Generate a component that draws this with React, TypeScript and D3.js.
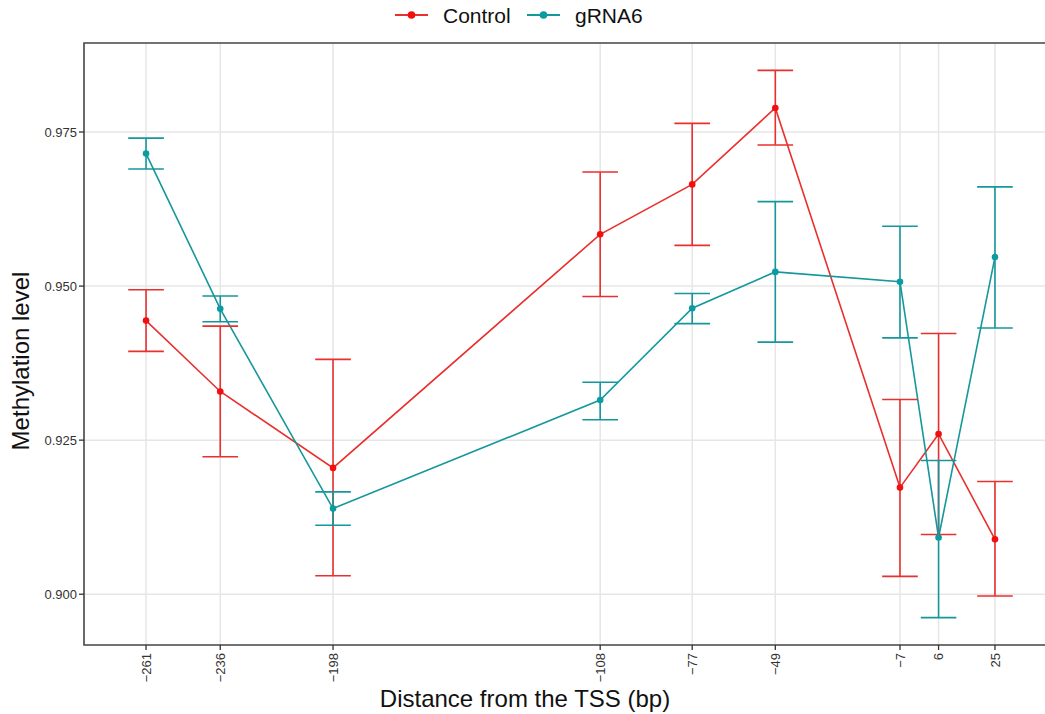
import { useEffect, useRef } from 'react';
import * as d3 from 'd3';

// positions relative to the TSS (bp)
const positions = [-261, -236, -198, -108, -77, -49, -7, 6, 25];

const controlMean = [0.9444, 0.9329, 0.9205, 0.9584, 0.9665, 0.9789, 0.9173, 0.926, 0.9089];
const controlLow = [0.9394, 0.9223, 0.903, 0.9483, 0.9566, 0.9729, 0.9029, 0.9097, 0.8997];
const controlHigh = [0.9494, 0.9435, 0.9381, 0.9685, 0.9764, 0.985, 0.9316, 0.9423, 0.9183];

const grnaMean = [0.9715, 0.9463, 0.9139, 0.9315, 0.9464, 0.9523, 0.9507, 0.9092, 0.9547];
const grnaLow = [0.969, 0.9442, 0.9112, 0.9283, 0.9439, 0.9409, 0.9416, 0.8962, 0.9432];
const grnaHigh = [0.974, 0.9484, 0.9166, 0.9344, 0.9488, 0.9637, 0.9597, 0.9217, 0.9661];

const yTicks = [0.9, 0.925, 0.95, 0.975];

const seriesNames = ['Control', 'gRNA6'];
const lineColors = ['#E8302E', '#15979C'];
const pointColors = ['#F20F0F', '#0A9CA0'];

const W = 1045;
const H = 714;

const App = () => {
  const ref = useRef(null);

  useEffect(() => {
    const root = d3.select(ref.current);
    root.selectAll('*').remove();

    const svg = root.append('svg').attr('width', W).attr('height', H).style('display', 'block');

    // the panel runs past the right edge of the picture (cropped figure)
    const panel = { left: 84, top: 43, bottom: 645, right: 1057 };

    // errorbar width in data units, ggplot style 5% expansion
    const barW = 12;
    const xlo = d3.min(positions) - barW / 2;
    const xhi = d3.max(positions) + barW / 2;
    const xpad = (xhi - xlo) * 0.05;
    const x = d3.scaleLinear().domain([xlo - xpad, xhi + xpad]).range([panel.left, panel.right]);

    const ylo = Math.min(d3.min(controlLow), d3.min(grnaLow));
    const yhi = Math.max(d3.max(controlHigh), d3.max(grnaHigh));
    const ypad = (yhi - ylo) * 0.05;
    const y = d3.scaleLinear().domain([ylo - ypad, yhi + ypad]).range([panel.bottom, panel.top]);

    // grid
    const grid = svg.append('g');
    grid
      .selectAll('line.gy')
      .data(yTicks)
      .enter()
      .append('line')
      .attr('x1', panel.left)
      .attr('x2', W)
      .attr('y1', d => y(d))
      .attr('y2', d => y(d))
      .attr('stroke', '#e6e6e6')
      .attr('stroke-width', 1.5);
    grid
      .selectAll('line.gx')
      .data(positions)
      .enter()
      .append('line')
      .attr('x1', d => x(d))
      .attr('x2', d => x(d))
      .attr('y1', panel.top)
      .attr('y2', panel.bottom)
      .attr('stroke', '#e6e6e6')
      .attr('stroke-width', 1.5);

    const series = [
      { mean: controlMean, low: controlLow, high: controlHigh },
      { mean: grnaMean, low: grnaLow, high: grnaHigh },
    ];

    const line = d3
      .line()
      .x(d => x(d[0]))
      .y(d => y(d[1]));

    series.forEach((s, i) => {
      svg
        .append('path')
        .attr('d', line(positions.map((p, j) => [p, s.mean[j]])))
        .attr('fill', 'none')
        .attr('stroke', lineColors[i])
        .attr('stroke-width', 1.6);
    });

    series.forEach((s, i) => {
      const g = svg.append('g').attr('stroke', lineColors[i]).attr('stroke-width', 1.6);
      positions.forEach((p, j) => {
        g.append('line')
          .attr('x1', x(p))
          .attr('x2', x(p))
          .attr('y1', y(s.low[j]))
          .attr('y2', y(s.high[j]));
        [s.low[j], s.high[j]].forEach(v => {
          g.append('line')
            .attr('x1', x(p - barW / 2))
            .attr('x2', x(p + barW / 2))
            .attr('y1', y(v))
            .attr('y2', y(v));
        });
      });
    });

    series.forEach((s, i) => {
      svg
        .append('g')
        .selectAll('circle')
        .data(positions)
        .enter()
        .append('circle')
        .attr('cx', d => x(d))
        .attr('cy', (d, j) => y(s.mean[j]))
        .attr('r', 3.3)
        .attr('fill', pointColors[i]);
    });

    // panel border (left, top, bottom; right side is outside the picture)
    svg
      .append('path')
      .attr('d', `M${W},${panel.top}H${panel.left}V${panel.bottom}H${W}`)
      .attr('fill', 'none')
      .attr('stroke', '#444')
      .attr('stroke-width', 1.6);

    // axes
    const font = 'Liberation Sans, Arial, Helvetica, sans-serif';
    const yAxis = svg.append('g');
    yTicks.forEach(t => {
      yAxis
        .append('line')
        .attr('x1', panel.left - 5)
        .attr('x2', panel.left)
        .attr('y1', y(t))
        .attr('y2', y(t))
        .attr('stroke', '#333')
        .attr('stroke-width', 1.3);
      yAxis
        .append('text')
        .attr('x', panel.left - 7)
        .attr('y', y(t))
        .attr('dy', '0.35em')
        .attr('text-anchor', 'end')
        .style('font-family', font)
        .style('font-size', '13px')
        .attr('fill', '#333')
        .text(d3.format('.3f')(t));
    });

    const xAxis = svg.append('g');
    positions.forEach(p => {
      xAxis
        .append('line')
        .attr('x1', x(p))
        .attr('x2', x(p))
        .attr('y1', panel.bottom)
        .attr('y2', panel.bottom + 5)
        .attr('stroke', '#333')
        .attr('stroke-width', 1.3);
      xAxis
        .append('text')
        .attr('transform', `translate(${x(p)},${panel.bottom + 8}) rotate(-90)`)
        .attr('dy', '0.35em')
        .attr('text-anchor', 'end')
        .style('font-family', font)
        .style('font-size', '13px')
        .attr('fill', '#333')
        .text(String(p).replace('-', '\u2212'));
    });

    svg
      .append('text')
      .attr('x', 525)
      .attr('y', 707)
      .attr('text-anchor', 'middle')
      .style('font-family', font)
      .style('font-size', '24px')
      .attr('fill', '#111')
      .text('Distance from the TSS (bp)');

    svg
      .append('text')
      .attr('transform', 'translate(29,361) rotate(-90)')
      .attr('text-anchor', 'middle')
      .style('font-family', font)
      .style('font-size', '24px')
      .attr('fill', '#111')
      .text('Methylation level');

    // legend
    const legend = svg.append('g').attr('transform', 'translate(395, 15)');
    const keyX = [0, 132];
    seriesNames.forEach((name, i) => {
      const k = legend.append('g').attr('transform', `translate(${keyX[i]},0)`);
      k.append('line')
        .attr('x1', 0)
        .attr('x2', 33)
        .attr('stroke', lineColors[i])
        .attr('stroke-width', 1.8);
      k.append('circle').attr('cx', 16.5).attr('r', 3.8).attr('fill', pointColors[i]);
      k.append('text')
        .attr('x', 48)
        .attr('dy', '0.36em')
        .style('font-family', font)
        .style('font-size', '21px')
        .attr('fill', '#111')
        .text(name);
    });
  }, []);

  return <div ref={ref} style={{ position: 'absolute', left: 0, top: 0 }} />;
};

export default App;
